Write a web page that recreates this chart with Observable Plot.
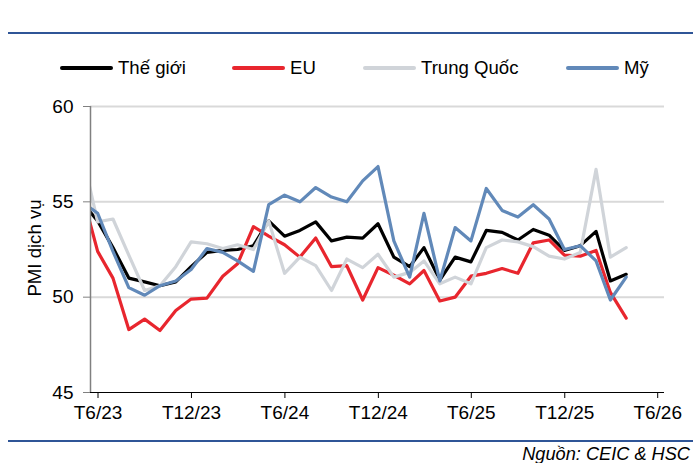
<!DOCTYPE html>
<html>
<head>
<meta charset="utf-8">
<script src="https://cdn.jsdelivr.net/npm/d3@7"></script>
<script src="https://cdn.jsdelivr.net/npm/@observablehq/plot@0.6"></script>
<style>
  body { margin: 0; background: #fff; }
  #wrap { position: relative; width: 693px; height: 463px; overflow: hidden;
          font-family: "Liberation Sans", Arial, sans-serif; color: #000; }
  .rule { position: absolute; left: 8px; right: 0; height: 2px; background: #2f5597; }
  #legend { position: absolute; top: 56px; left: 0; width: 693px; height: 24px; }
  .item { position: absolute; top: 0; height: 24px; display: flex; align-items: center; font-size: 18.6px; }
  .swatch { width: 53px; height: 4px; border-radius: 2px; margin-right: 5px; }
  #chart { position: absolute; left: 0; top: 0; }
  #ylabel { position: absolute; left: 35px; top: 248px; transform: translate(-50%, -50%) rotate(-90deg);
            font-size: 18.6px; white-space: nowrap; }
  #source { position: absolute; right: 3px; top: 445px; font-size: 18.2px; font-style: italic; line-height: 18px; }
</style>
</head>
<body>
<div id="wrap">
  <div class="rule" style="top:32px"></div>
  <div id="legend"></div>
  <div id="chart"></div>
  <div id="ylabel">PMI dịch vụ</div>
  <div class="rule" style="top:440px"></div>
  <div id="source">Nguồn: CEIC &amp; HSC</div>
</div>
<script>
// Monthly services PMI readings, May 2023 – Apr 2026
const months = [
  "2023-05","2023-06","2023-07","2023-08","2023-09","2023-10","2023-11","2023-12",
  "2024-01","2024-02","2024-03","2024-04","2024-05","2024-06","2024-07","2024-08",
  "2024-09","2024-10","2024-11","2024-12","2025-01","2025-02","2025-03","2025-04",
  "2025-05","2025-06","2025-07","2025-08","2025-09","2025-10","2025-11","2025-12",
  "2026-01","2026-02","2026-03","2026-04"
];

const theGioi = [
  55.0, 54.0, 52.6, 51.0, 50.8, 50.6, 50.8, 51.6,
  52.35, 52.45, 52.5, 52.7, 54.0, 53.2, 53.5, 53.95,
  52.95, 53.15, 53.1, 53.85, 52.1, 51.6, 52.6, 50.9,
  52.1, 51.85, 53.5, 53.4, 53.0, 53.55, 53.25, 52.45,
  52.7, 53.45, 50.85, 51.2
];

const eu = [
  55.5, 52.4, 51.0, 48.3, 48.85, 48.25, 49.3, 49.9,
  49.95, 51.1, 51.75, 53.7, 53.2, 52.75, 52.1, 53.1,
  51.6, 51.65, 49.85, 51.55, 51.15, 50.7, 51.4, 49.8,
  50.0, 51.1, 51.25, 51.5, 51.25, 52.85, 53.0, 52.2,
  52.15, 52.45, 50.25, 48.9
];

const trungQuoc = [
  57.6, 53.95, 54.1, 52.2, 50.35, 50.6, 51.6, 52.9,
  52.8, 52.55, 52.75, 52.5, 54.0, 51.25, 52.1, 51.65,
  50.35, 52.0, 51.55, 52.25, 51.05, 51.3, 51.9, 50.7,
  51.05, 50.7, 52.6, 53.0, 52.9, 52.65, 52.15, 52.0,
  52.35, 56.7, 52.1, 52.6
];

const my = [
  55.0, 54.4, 52.4, 50.5, 50.1, 50.6, 50.85, 51.45,
  52.55, 52.35, 51.9, 51.35, 54.85, 55.35, 55.0, 55.75,
  55.25, 55.0, 56.1, 56.85, 52.95, 51.05, 54.4, 50.85,
  53.65, 52.95, 55.7, 54.55, 54.2, 54.85, 54.1, 52.5,
  52.7, 51.9, 49.85, 51.05
];

const seriesNames = ["Thế giới", "EU", "Trung Quốc", "Mỹ"];
const seriesColors = ["#000000", "#e8262e", "#d0d4d9", "#6189b9"];
const seriesValues = [theGioi, eu, trungQuoc, my];

const tickDates = ["2023-06-01","2023-12-01","2024-06-01","2024-12-01","2025-06-01","2025-12-01","2026-06-01"];
const tickLabels = ["T6/23","T12/23","T6/24","T12/24","T6/25","T12/25","T6/26"];
const yTicks = [45, 50, 55, 60];

// each reading is placed mid-month
const monthDate = m => new Date(Date.UTC(+m.slice(0, 4), +m.slice(5, 7) - 1, 15));
const dayDate = s => new Date(s + "T00:00:00Z");

const xTicks = tickDates.map(dayDate);
const labelOf = new Map(xTicks.map((d, i) => [+d, tickLabels[i]]));

const lineMarks = seriesValues.map((vals, s) =>
  Plot.lineY(vals.map((v, i) => ({date: monthDate(months[i]), value: v})), {
    x: "date", y: "value", stroke: seriesColors[s], strokeWidth: 3.2, clip: true
  })
);

const chart = Plot.plot({
  width: 693,
  height: 463,
  marginLeft: 90,
  marginRight: 29,
  marginTop: 106,
  marginBottom: 71,
  style: {fontFamily: "Liberation Sans, Arial, sans-serif", fontSize: "19px", color: "#000", background: "transparent"},
  x: {type: "utc", domain: [dayDate("2023-06-01"), dayDate("2026-06-29")]},
  y: {domain: [45, 60]},
  marks: [
    Plot.ruleY([50, 55, 60], {stroke: "#d9d9d9", strokeWidth: 2}),
    ...lineMarks,
    Plot.ruleX([dayDate("2023-06-01")], {stroke: "#808080", strokeWidth: 1.5}),
    Plot.ruleY([45], {stroke: "#000", strokeWidth: 1.2}),
    Plot.axisY(yTicks, {tickSize: 7, tickPadding: 10, stroke: "#808080", fill: "#000", fontSize: 19, label: null}),
    // month labels sit centred on their month, just right of the tick
    Plot.axisX(xTicks, {tickSize: 6, tickPadding: 7, stroke: "#000", fill: "#000", fontSize: 19, label: null,
                        dx: 7.5, tickFormat: d => labelOf.get(+d)})
  ]
});
document.getElementById("chart").appendChild(chart);

// legend row
const legendX = [60, 232, 363, 566];
const legend = document.getElementById("legend");
seriesNames.forEach((name, i) => {
  const item = document.createElement("div");
  item.className = "item";
  item.style.left = legendX[i] + "px";
  const sw = document.createElement("div");
  sw.className = "swatch";
  sw.style.background = seriesColors[i];
  const label = document.createElement("span");
  label.textContent = name;
  item.appendChild(sw);
  item.appendChild(label);
  legend.appendChild(item);
});
</script>
</body>
</html>
